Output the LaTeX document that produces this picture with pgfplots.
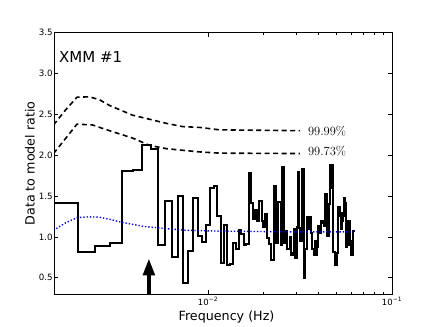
\documentclass[border=0pt]{standalone}
\usepackage{fontspec}
\setmainfont{DejaVu Sans}
\newfontfamily\lmr{Latin Modern Roman}
\usepackage{pgfplots}
\usepackage{pgfplotstable}
\pgfplotsset{compat=1.18}
\usetikzlibrary{arrows.meta}

% bin index n (bin width 1/2048 Hz) and data/model ratio
\pgfplotstableread{
n r
3 1.42
4 0.81
5 0.89
6 0.93
7 1.81
8 1.82
9 2.13
10 2.07
11 0.90
12 1.44
13 0.75
14 1.50
15 0.43
16 0.83
17 1.48
18 1.01
19 0.94
20 1.14
21 1.60
22 1.62
23 1.25
24 0.68
25 1.15
26 0.65
27 0.67
28 0.93
29 0.85
30 1.08
31 1.03
32 0.90
33 0.91
34 1.78
35 1.41
36 1.22
37 1.33
38 1.20
39 1.44
40 1.19
41 1.12
42 1.28
43 0.99
44 0.91
45 0.72
46 0.72
47 1.62
48 0.92
49 1.43
50 1.43
51 0.90
52 1.86
53 0.93
54 1.07
55 0.85
56 0.85
57 1.00
58 0.78
59 0.80
60 1.09
61 0.74
62 1.12
63 1.80
64 1.11
65 0.95
66 1.83
67 1.83
68 0.50
69 0.85
70 0.85
71 1.24
72 1.10
73 1.24
74 1.05
75 0.85
76 0.85
77 0.78
78 0.95
79 0.78
80 0.88
81 1.13
82 1.13
83 1.05
84 1.19
85 1.19
86 1.17
87 1.13
88 1.13
89 1.52
90 1.52
91 1.01
92 1.01
93 1.40
94 1.88
95 1.88
96 1.60
97 1.88
98 0.82
99 0.82
100 0.66
101 0.66
102 0.66
103 0.80
104 1.37
105 1.25
106 1.37
107 1.29
108 1.10
109 1.29
110 1.20
111 1.25
112 1.48
113 1.48
114 1.42
115 0.87
116 0.87
117 1.19
118 1.19
119 0.90
120 1.19
121 0.95
122 0.78
123 0.78
124 0.78
125 1.07
126 1.07
127 1.07
128 1.07
}\ratiotable

\begin{document}
\begin{tikzpicture}
\useasboundingbox (-54.3bp,-33bp) rectangle (381.7bp,294bp);
\begin{axis}[
  at={(0,0)}, anchor=south west,
  scale only axis, width=337.7bp, height=261.3bp,
  xmode=log, xmin=1.46e-3, xmax=0.1,
  ymin=0.3, ymax=3.5,
  xtick={0.01,0.1},
  xticklabels={10\textsuperscript{−2},10\textsuperscript{−1}},
  ytick={0.5,1,1.5,2,2.5,3,3.5},
  yticklabel style={/pgf/number format/fixed, /pgf/number format/fixed zerofill,
    /pgf/number format/precision=1, /pgf/number format/assume math mode=true,
    font=\fontsize{8.7bp}{10bp}\selectfont, inner sep=1.5bp},
  xticklabel style={font=\fontsize{8.5bp}{10bp}\selectfont, inner sep=1bp, yshift=-2bp},
  tick align=inside, tick pos=both,
  major tick length=4bp, minor tick length=2bp,
  every tick/.style={black, line width=0.6bp},
  axis line style={black, line width=0.8bp},
  xlabel={Frequency (Hz)},
  ylabel={Data to model ratio},
  label style={font=\fontsize{12.7bp}{14bp}\selectfont},
  xlabel style={at={(axis description cs:0.51,-0.0995)}, anchor=base},
  ylabel style={at={(axis description cs:-0.072,0.5)}, anchor=center},
  clip=true,
]
% 99.99% and 99.73% significance curves
\addplot[black, line width=1.6bp, dash pattern=on 5bp off 3.5bp] coordinates {
 (1.446e-3,2.37) (1.675e-3,2.55) (1.94e-3,2.71) (2.265e-3,2.715) (2.567e-3,2.68)
 (2.91e-3,2.61) (3.89e-3,2.49) (4.81e-3,2.44) (5.93e-3,2.39) (7.28e-3,2.35)
 (9.0e-3,2.34) (1.158e-2,2.31) (1.914e-2,2.305) (3.16e-2,2.30)};
\addplot[black, line width=1.6bp, dash pattern=on 5bp off 3.5bp] coordinates {
 (1.446e-3,2.02) (1.675e-3,2.20) (1.94e-3,2.38) (2.355e-3,2.37) (2.91e-3,2.30)
 (3.89e-3,2.21) (4.81e-3,2.12) (5.93e-3,2.08) (7.28e-3,2.06) (9.0e-3,2.04)
 (1.158e-2,2.025) (3.16e-2,2.02)};
% data/model ratio
\addplot[black, line width=2bp, const plot mark left, mark=none]
  table[x expr=\thisrow{n}*0.00048828, y=r] {\ratiotable};
% model curve
\addplot[blue, line width=1.4bp, dash pattern=on 1.3bp off 2bp] coordinates {
 (1.446e-3,1.08) (1.675e-3,1.17) (1.94e-3,1.235) (2.265e-3,1.245) (2.567e-3,1.24)
 (2.91e-3,1.215) (3.37e-3,1.18) (4.40e-3,1.13) (5.93e-3,1.10) (7.62e-3,1.08)
 (1.158e-2,1.07) (1.914e-2,1.065) (3.16e-2,1.06) (6.23e-2,1.06)};
% arrow
\addplot[black, line width=4bp, -{Triangle[width=11.3bp,length=17bp]}] coordinates {
 (4.77e-3,0.25) (4.77e-3,0.737)};
\node[anchor=west, inner sep=0pt, font=\lmr\fontsize{12.5bp}{14bp}\selectfont] at (axis cs:0.0349,2.30) {99.99\%};
\node[anchor=west, inner sep=0pt, font=\lmr\fontsize{12.5bp}{14bp}\selectfont] at (axis cs:0.0349,2.05) {99.73\%};
\node[anchor=base west, inner sep=0pt, font=\fontsize{15bp}{17bp}\selectfont] at (axis description cs:0.014,0.887) {XMM \#1};
\end{axis}
\end{tikzpicture}
\end{document}
